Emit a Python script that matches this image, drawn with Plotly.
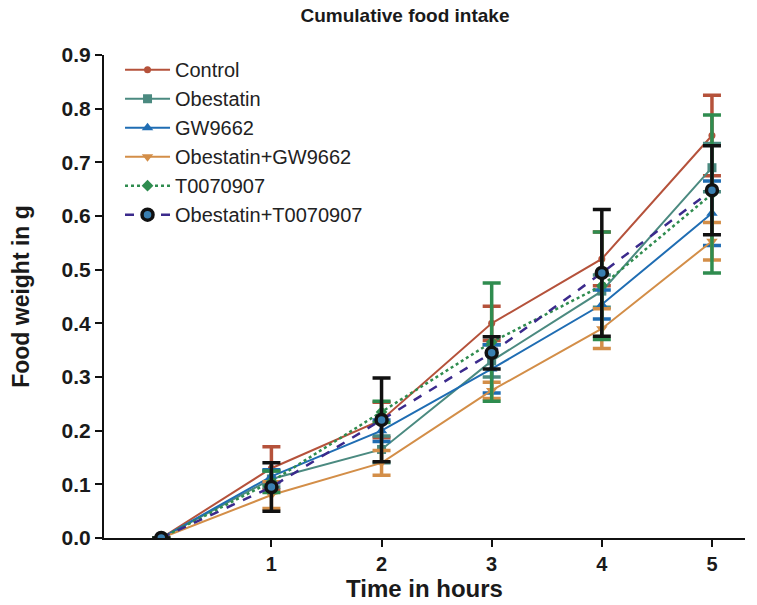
import plotly.graph_objects as go

hours = [0, 1, 2, 3, 4, 5]
series_names = ["Control", "Obestatin", "GW9662", "Obestatin+GW9662", "T0070907", "Obestatin+T0070907"]
control = [0, 0.13, 0.22, 0.40, 0.52, 0.75]
control_err = [0, 0.04, 0.033, 0.032, 0.05, 0.075]
obestatin = [0, 0.11, 0.165, 0.33, 0.46, 0.69]
obestatin_err = [0, 0.015, 0.025, 0.03, 0.03, 0.045]
gw9662 = [0, 0.115, 0.20, 0.315, 0.435, 0.605]
gw9662_err = [0, 0.012, 0.02, 0.045, 0.027, 0.06]
obe_gw = [0, 0.08, 0.14, 0.275, 0.39, 0.553]
obe_gw_err = [0, 0.025, 0.023, 0.015, 0.037, 0.035]
t007 = [0, 0.105, 0.235, 0.365, 0.47, 0.641]
t007_err = [0, 0.02, 0.02, 0.11, 0.1, 0.147]
obe_t = [0, 0.095, 0.22, 0.345, 0.494, 0.648]
obe_t_err = [0, 0.045, 0.078, 0.03, 0.118, 0.083]

x_ticks = [1, 2, 3, 4, 5]
y_ticks = [0, 0.1, 0.2, 0.3, 0.4, 0.5, 0.6, 0.7, 0.8, 0.9]

values = [control, obestatin, gw9662, obe_gw, t007, obe_t]
errors = [control_err, obestatin_err, gw9662_err, obe_gw_err, t007_err, obe_t_err]
colors = ["#b5523b", "#4b8a80", "#1f6db3", "#d38e48", "#2f8c4f", "#3b2a8c"]
err_colors = ["#b5523b", "#4b8a80", "#1f6db3", "#d38e48", "#2f8c4f", "#111111"]
symbols = ["circle", "square", "triangle-up", "triangle-down", "diamond", "circle"]
msizes = [7, 9, 10, 10, 9, 11]
dashes = ["solid", "solid", "solid", "solid", "dot", "dash"]
lwidths = [2, 2, 2, 2, 2.5, 2.5]

FONT = "Liberation Sans, Arial, sans-serif"

fig = go.Figure()
for i, name in enumerate(series_names):
    if i == 5:
        marker = dict(symbol=symbols[i], size=msizes[i], color="#3a7fb0",
                      line=dict(color="#111111", width=3.5))
    else:
        marker = dict(symbol=symbols[i], size=msizes[i], color=colors[i],
                      line=dict(color=colors[i], width=0))
    fig.add_trace(go.Scatter(
        x=hours, y=values[i], name=name, mode="lines+markers",
        line=dict(color=colors[i], width=lwidths[i], dash=dashes[i]),
        marker=marker,
        error_y=dict(type="data", array=errors[i], visible=True,
                     color=err_colors[i], thickness=3.5, width=9),
    ))

fig.update_layout(
    width=757, height=605,
    margin=dict(l=104, r=12, t=55, b=67),
    plot_bgcolor="white", paper_bgcolor="white",
    font=dict(family=FONT, color="#1a1a1a"),
    title=dict(text="<b>Cumulative food intake</b>", x=0.535, xanchor="center",
               y=0.975, yanchor="middle", font=dict(size=19, color="#1a1a1a")),
    legend=dict(x=0.025, y=1.01, xanchor="left", yanchor="top",
                font=dict(size=20, color="#222222"), bgcolor="rgba(0,0,0,0)",
                tracegroupgap=0, itemwidth=45),
    showlegend=True,
)
fig.update_xaxes(
    range=[-0.52, 5.3], tickmode="array", tickvals=x_ticks,
    ticktext=["<b>%d</b>" % v for v in x_ticks],
    showline=True, linecolor="#111111", linewidth=2,
    ticks="outside", ticklen=7, tickwidth=2, tickcolor="#111111",
    showgrid=False, zeroline=False,
    tickfont=dict(size=20, color="#1a1a1a"),
    title=dict(text="<b>Time in hours</b>", font=dict(size=24, color="#1a1a1a"), standoff=0),
)
fig.update_yaxes(
    range=[0, 0.9], tickmode="array", tickvals=y_ticks,
    ticktext=["<b>%.1f</b>" % v for v in y_ticks],
    showline=True, linecolor="#111111", linewidth=2,
    ticks="outside", ticklen=7, tickwidth=2, tickcolor="#111111",
    showgrid=False, zeroline=False,
    tickfont=dict(size=21, color="#1a1a1a"),
    title=dict(text="<b>Food weight in g</b>", font=dict(size=23, color="#1a1a1a"), standoff=26),
)

fig.write_html("out.html")
